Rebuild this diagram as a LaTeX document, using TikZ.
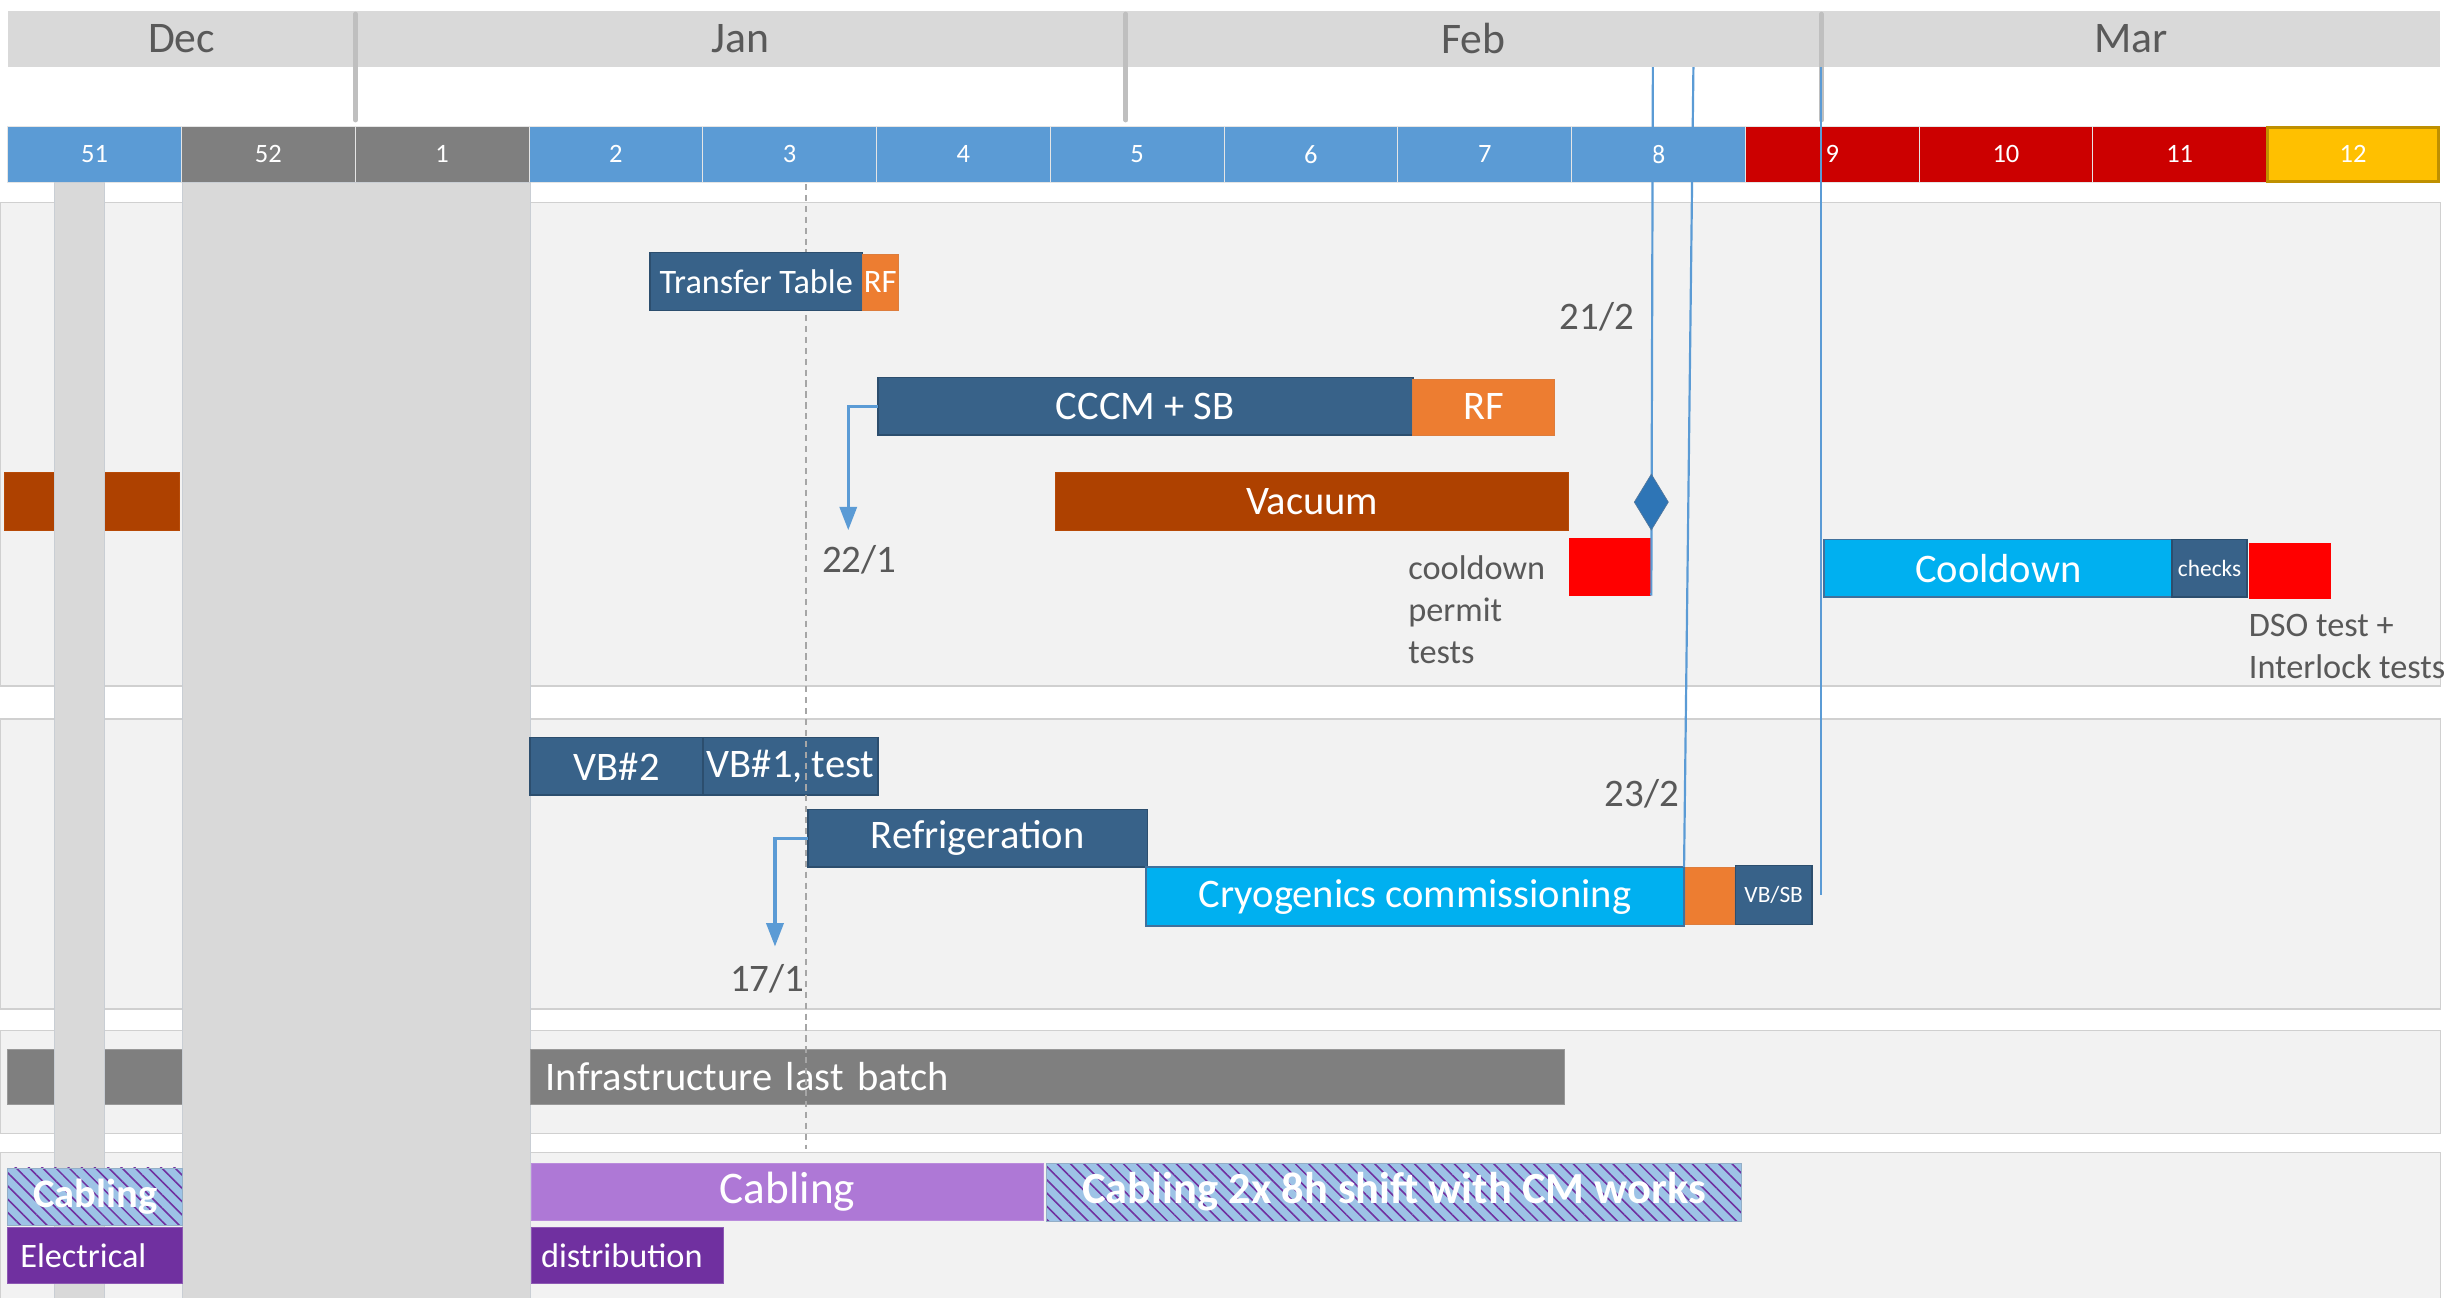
\documentclass[tikz,border=0pt]{standalone}
\usepackage{fontspec}
\setmainfont{Carlito}
\usetikzlibrary{shapes.geometric,arrows.meta,patterns.meta,calc}
\definecolor{dkblue}{HTML}{386289}
\definecolor{dkedge}{HTML}{2C4E6E}
\definecolor{orng}{HTML}{ED7D31}
\definecolor{cyanb}{HTML}{00B0F0}
\definecolor{cyanedge}{HTML}{41719C}
\definecolor{redb}{HTML}{FF0000}
\definecolor{brown}{HTML}{AE4100}
\definecolor{purp}{HTML}{7030A0}
\definecolor{lav}{HTML}{AE78D6}
\definecolor{graybar}{HTML}{7F7F7F}
\definecolor{hatchbg}{HTML}{9DC3E6}
\definecolor{wblue}{HTML}{5B9BD5}
\definecolor{wgray}{HTML}{7F7F7F}
\definecolor{wred}{HTML}{CC0000}
\definecolor{wyel}{HTML}{FFC000}
\definecolor{wyeledge}{HTML}{BF9000}
\definecolor{lanefill}{HTML}{F2F2F2}
\definecolor{laneedge}{HTML}{D0D0D0}
\definecolor{colfill}{HTML}{D9D9D9}
\definecolor{coledge}{HTML}{C9CED4}
\definecolor{monthfill}{HTML}{D9D9D9}
\definecolor{sepgray}{HTML}{BFBFBF}
\definecolor{lbl}{HTML}{595959}
\definecolor{mblue}{HTML}{5B9BD5}
\definecolor{dmblue}{HTML}{2E75B6}
\definecolor{dashgray}{HTML}{A6A6A6}
\tikzset{
  base/.style={rectangle, inner sep=0pt, outer sep=0pt, text=white},
  bigf/.style={font=\fontsize{26}{31}\selectfont},
  midf/.style={font=\fontsize{22}{27}\selectfont},
  smallf/.style={font=\fontsize{15}{18}\selectfont},
  dbar/.style={base, fill=dkblue, draw=dkedge, line width=1pt},
  obar/.style={base, fill=orng, draw=orng!85!gray, line width=0.5pt},
  cbar/.style={base, fill=cyanb, draw=cyanedge, line width=1.2pt},
  rbar/.style={base, fill=redb},
  brbar/.style={base, fill=brown, draw=brown!85!orng, line width=0.8pt},
  gbar/.style={base, fill=graybar, draw=graybar!80!white, line width=0.6pt},
  pbar/.style={base, fill=purp, draw=purp!80!white, line width=0.6pt},
  lbar/.style={base, fill=lav, draw=lav!85!white, line width=0.6pt},
  hatchbar/.style={base, preaction={fill=hatchbg}, pattern={Lines[angle=-45,distance=6pt,line width=1pt]}, pattern color=purp, draw=hatchbg!70!gray, line width=0.5pt},
  lane/.style={base, fill=lanefill, draw=laneedge, line width=1pt},
  col/.style={base, fill=colfill, draw=coledge, line width=0.8pt},
  month/.style={base, fill=monthfill, minimum height=36, text=lbl, font=\fontsize{28}{33}\selectfont},
  wk/.style={base, minimum width=111.43, minimum height=36, draw=white!80!gray, line width=0.7pt, font=\fontsize{17}{20}\selectfont},
  sepline/.style={draw=sepgray, line width=3pt, line cap=round},
  datelbl/.style={inner sep=0pt, text=lbl, font=\fontsize{25}{30}\selectfont},
  note/.style={inner sep=0pt, text=lbl, align=left, font=\fontsize{22}{27}\selectfont},
  conn/.style={draw=mblue, line width=2pt, -{Triangle[width=11pt,length=15pt]}},
  mline/.style={draw=mblue, line width=1.4pt},
  dashln/.style={draw=dashgray, line width=1pt, dash pattern=on 4pt off 3pt}
}
\begin{document}
\begin{tikzpicture}[x=1pt,y=-1pt]
\useasboundingbox (0,0) rectangle (1568,832);
\fill[white] (0,0) rectangle (1568,832);

% swim lanes
\node[lane, minimum width=1565, minimum height=310] (lane1) at (782.5,285) {};
\node[lane, minimum width=1565, minimum height=186] (lane2) at (782.5,554) {};
\node[lane, minimum width=1565, minimum height=66] (lane3) at (782.5,694) {};
\node[lane, minimum width=1565, minimum height=110] (lane4) at (782.5,794) {};

% months
\node[month, minimum width=223] (mDec) at (116.5,25) {Dec};
\node[month, minimum width=494] (mJan) at (475,25) {Jan};
\node[month, minimum width=446] (mFeb) at (945,25) {Feb};
\node[month, minimum width=397] (mMar) at (1366.5,25) {Mar};
\foreach \m in {mJan,mFeb,mMar}
  \draw[sepline] ($(\m.north west)+(0,2)$) -- ($(\m.north west)+(0,70)$);

% weeks
\foreach \lb/\cl [count=\i from 0] in {51/wblue,52/wgray,1/wgray,2/wblue,3/wblue,4/wblue,5/wblue,6/wblue,7/wblue,8/wblue,9/wred,10/wred,11/wred}
  \node[wk, fill=\cl] (w\lb) at ({60.71+111.43*\i},99) {\lb};
\node[wk, fill=wyel, draw=wyeledge, line width=2pt, minimum width=110, minimum height=35] (w12) at (1509,99) {12};

% bars lying under the shaded columns
\node[brbar, minimum width=112, minimum height=37] (vacL) at (59,321.5) {};
\node[gbar, minimum width=112, minimum height=35] (infL) at (61,690.5) {};

% shaded columns
\node[col, minimum width=32, minimum height=730] (colA) at (51,482) {};
\node[col, minimum width=223, minimum height=730] (colB) at (228.5,482) {};

% lane 4
\node[hatchbar, minimum width=112, minimum height=37, font=\bfseries\fontsize{26}{31}\selectfont] (cabL) at (61,767.5) {Cabling};
\node[pbar, minimum width=112, minimum height=36, inner xsep=8pt, text width=96, align=left, midf] (elec) at (61,805) {Electrical};
\node[lbar, minimum width=328, minimum height=37, font=\fontsize{29}{34}\selectfont] (cab) at (505,764.5) {Cabling};
\node[hatchbar, minimum width=446, minimum height=37, font=\bfseries\fontsize{28.5}{34}\selectfont] (cab2) at (894,764.5) {Cabling 2x 8h shift with CM works};
\node[pbar, minimum width=123, minimum height=36, inner xsep=6pt, text width=111, align=left, midf] (dist) at (402.5,805) {distribution};

% lane 3
\node[gbar, minimum width=663, minimum height=35, inner xsep=10pt, text width=643, align=left, bigf] (inf) at (671.5,690.5) {Infrastructure last batch};

% lane 2
\node[dbar, minimum width=111, minimum height=37, bigf] (vb2) at (395.5,491.5) {VB\#2};
\node[dbar, minimum width=112, minimum height=37, bigf] (vb1) at (507,491.5) {VB\#1, test};
\node[dbar, minimum width=218, minimum height=37, bigf] (refr) at (627,537.5) {Refrigeration};
\node[cbar, minimum width=345, minimum height=38, bigf] (cryo) at (907.5,575) {Cryogenics commissioning};
\node[obar, minimum width=31, minimum height=37] (cryorf) at (1096.5,574.5) {};
\node[dbar, minimum width=49, minimum height=38, smallf] (vbsb) at (1137.5,574) {VB/SB};

% dashed marker line
\coordinate (dtop) at (517,118);
\coordinate (dbot) at (517,737);
\draw[dashln] (dtop) -- (dbot);

% lane 1
\node[dbar, minimum width=136, minimum height=37, midf] (tt) at (485,180.5) {Transfer Table};
\node[obar, minimum width=23, minimum height=36, font=\fontsize{21}{25}\selectfont] (ttrf) at (564.5,181) {RF};
\node[dbar, minimum width=343, minimum height=37, bigf] (cccm) at (734.5,260.5) {CCCM + SB};
\node[obar, minimum width=91, minimum height=36, bigf] (cccmrf) at (951.5,261) {RF};
\node[brbar, minimum width=329, minimum height=37, bigf] (vac) at (841.5,321.5) {Vacuum};
\node[rbar, minimum width=53, minimum height=37] (red1) at (1032.5,363.5) {};
\node[cbar, minimum width=223, minimum height=37, bigf] (cool) at (1281.5,364.5) {Cooldown};
\node[dbar, minimum width=48, minimum height=37, smallf] (chk) at (1417,364.5) {checks};
\node[rbar, minimum width=53, minimum height=36] (red2) at (1468.5,366) {};

% labels
\node[datelbl] (l212) at (1024,203) {21/2};
\node[datelbl] (l221) at (551,359) {22/1};
\node[datelbl] (l232) at (1053,509) {23/2};
\node[datelbl] (l171) at (492,628) {17/1};
\node[note, anchor=west] (cdp) at (903,391) {cooldown\\permit\\tests};
\node[note, anchor=west] (dso) at (1442,414.5) {DSO test +\\Interlock tests};

% arrows
\coordinate (a221) at (544,340);
\coordinate (a171) at (497,607);
\draw[conn] (cccm.west) -| (a221);
\draw[conn] (refr.west) -| (a171);

% milestone lines
\coordinate (t1) at (1060,43);
\coordinate (t2) at (1086,43);
\coordinate (t3) at (1168,43);
\coordinate (b3) at (1168,574);
\draw[mline] (t1) -- (red1.south east);
\draw[mline] (t2) -- (cryo.north east);
\draw[mline] (t3) -- (b3);
\node[diamond, fill=dmblue, draw=dmblue!80!orng, line width=0.4pt, inner sep=0pt, minimum width=22, minimum height=36] (ms) at (1059,322) {};
\end{tikzpicture}
\end{document}
